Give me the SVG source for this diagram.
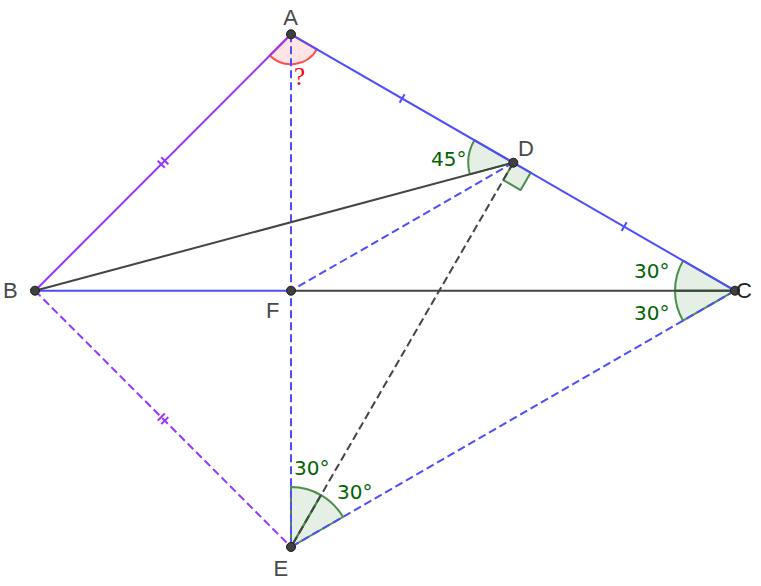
<svg xmlns="http://www.w3.org/2000/svg" width="761" height="586" viewBox="0 0 761 586">
<style>
.sec{fill:#006400;fill-opacity:0.1;stroke:#4a8f4a;stroke-width:2;stroke-linejoin:round}
.red{fill:#ff0000;fill-opacity:0.1;stroke:#ff4d4d;stroke-width:2}
.ln{stroke-width:2;fill:none}
.pu{stroke:#9933ff}
.bl{stroke:#4d4dff}
.gr{stroke:#444444}
.da{stroke-dasharray:8,4}
.tk{stroke-width:2}
.pt{fill:#404040;stroke:#1a1a1a;stroke-width:1}
.lb{font-family:"Liberation Sans",Arial,sans-serif;font-size:22px;fill:#4a4a4a}
.ag{font-family:"DejaVu Sans","Liberation Sans",sans-serif;font-size:20px;fill:#006400}
</style>
<rect width="761" height="586" fill="#ffffff"/>
<g id="angles">
<path class="red" d="M291,34.3 L316.98,49.3 A30,30 0 0 1 269.79,55.51 Z"/>
<path class="sec" d="M513.3,162.7 L469.83,174.35 A45,45 0 0 1 474.33,140.2 Z"/>
<path class="sec" d="M513.3,162.7 L530.62,172.7 L520.62,190.02 L503.3,180.02 Z"/>
<path class="sec" d="M735,290.7 L683.04,260.7 A60,60 0 0 0 675,290.7 Z"/>
<path class="sec" d="M735,290.7 L675,290.7 A60,60 0 0 0 683.04,320.7 Z"/>
<path class="sec" d="M291,547 L291,487 A60,60 0 0 1 321,495.04 Z"/>
<path class="sec" d="M291,547 L321,495.04 A60,60 0 0 1 342.96,517 Z"/>
</g>
<g id="connectors">
<line class="ln pu" x1="291" y1="34.3" x2="35" y2="290.7"/>
<line class="ln pu da" x1="35" y1="290.7" x2="291" y2="547"/>
<line class="ln bl" x1="291" y1="34.3" x2="735" y2="290.7"/>
<line class="ln bl da" x1="291" y1="34.3" x2="291" y2="547"/>
<line class="ln bl" x1="35" y1="290.7" x2="291" y2="290.7"/>
<line class="ln gr" x1="291" y1="290.7" x2="735" y2="290.7"/>
<line class="ln gr" x1="35" y1="290.7" x2="513.3" y2="162.7"/>
<line class="ln bl da" x1="513.3" y1="162.7" x2="291" y2="290.7"/>
<line class="ln gr da" x1="513.3" y1="162.7" x2="291" y2="547"/>
<line class="ln bl da" x1="735" y1="290.7" x2="291" y2="547"/>
<g class="tk pu" transform="translate(163,162.5) rotate(-45)"><line x1="-2.5" y1="-5" x2="-2.5" y2="5"/><line x1="2.5" y1="-5" x2="2.5" y2="5"/></g>
<g class="tk pu" transform="translate(163,418.85) rotate(45)"><line x1="-2.5" y1="-5" x2="-2.5" y2="5"/><line x1="2.5" y1="-5" x2="2.5" y2="5"/></g>
<g class="tk bl" transform="translate(402.15,98.5) rotate(30)"><line x1="0" y1="-5" x2="0" y2="5"/></g>
<g class="tk bl" transform="translate(624.15,226.7) rotate(30)"><line x1="0" y1="-5" x2="0" y2="5"/></g>
</g>
<g id="A"><circle class="pt" cx="291" cy="34.3" r="4.5"/><text class="lb" x="290.5" y="24.5" text-anchor="middle">A</text></g>
<g id="B"><circle class="pt" cx="35" cy="290.7" r="4.5"/><text class="lb" x="3" y="298">B</text></g>
<g id="C"><circle class="pt" cx="735" cy="290.7" r="4.5"/><text class="lb" x="736" y="298" style="fill:#222">C</text></g>
<g id="D"><circle class="pt" cx="513.3" cy="162.7" r="4.5"/><text class="lb" x="518" y="156">D</text></g>
<g id="E"><circle class="pt" cx="291" cy="547" r="4.5"/><text class="lb" x="273.5" y="576">E</text></g>
<g id="F"><circle class="pt" cx="291" cy="290.7" r="4.5"/><text class="lb" x="266" y="318">F</text></g>
<g id="labels">
<text x="294" y="85" style="font-family:'Liberation Serif',serif;font-size:25px;fill:#ff0000">?</text>
<text class="ag" x="431" y="166">45°</text>
<text class="ag" x="634" y="278">30°</text>
<text class="ag" x="634" y="320">30°</text>
<text class="ag" x="294" y="475">30°</text>
<text class="ag" x="337" y="499">30°</text>
</g>
</svg>
